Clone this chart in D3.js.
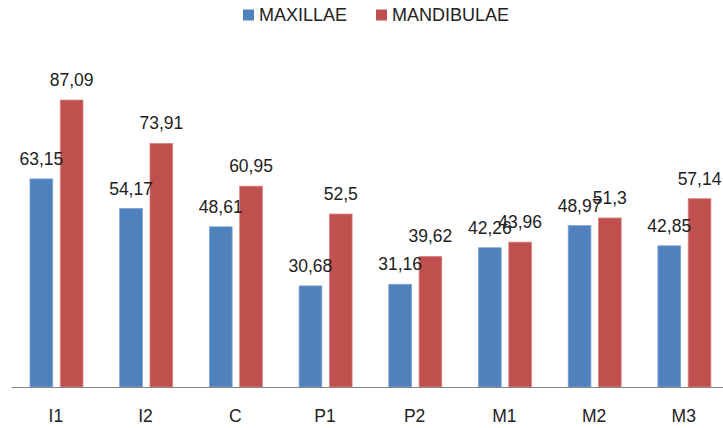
<!DOCTYPE html>
<html><head><meta charset="utf-8">
<script src="https://cdn.jsdelivr.net/npm/d3@7"></script>
<style>body{margin:0;background:#fff}svg{display:block}text{font-family:"Liberation Sans",Arial,sans-serif;fill:#222}</style>
</head><body>
<svg id="c" width="723" height="428"></svg>
<script>
const categories = ["I1","I2","C","P1","P2","M1","M2","M3"];
const seriesNames = ["MAXILLAE","MANDIBULAE"];
const maxillae = [63.15,54.17,48.61,30.68,31.16,42.26,48.97,42.85];
const mandibulae = [87.09,73.91,60.95,52.5,39.62,43.96,51.3,57.14];
const labelsMax = ["63,15","54,17","48,61","30,68","31,16","42,26","48,97","42,85"];
const labelsMand = ["87,09","73,91","60,95","52,5","39,62","43,96","51,3","57,14"];
const colors = ["#4F81BD","#C0504D"];

const svg = d3.select("#c");
const x0 = 11, step = 89.7, baseY = 387;
const x = d3.scaleBand().domain(categories).range([x0, x0 + step*categories.length]).padding(0);
const xs = d3.scaleBand().domain(seriesNames).range([19, 72]).paddingInner(0.25);
const y = d3.scaleLinear().domain([0, 100]).range([baseY, baseY - 329.5]);

const data = [maxillae, mandibulae];
const labels = [labelsMax, labelsMand];

seriesNames.forEach((s, si) => {
  const g = svg.append("g");
  g.selectAll("rect").data(categories).join("rect")
    .attr("x", (c) => x(c) + xs(s))
    .attr("y", (c, i) => y(data[si][i]))
    .attr("width", xs.bandwidth())
    .attr("height", (c, i) => baseY - y(data[si][i]))
    .attr("fill", colors[si])
    .attr("stroke", si === 0 ? "#7da0d3" : "#d88583")
    .attr("stroke-width", 0.8);
});
seriesNames.forEach((s, si) => {
  svg.append("g").selectAll("text").data(categories).join("text")
    .attr("x", (c) => x(c) + xs(s) + xs.bandwidth()/2)
    .attr("y", (c, i) => y(data[si][i]) - 14)
    .attr("text-anchor", "middle")
    .attr("font-size", 17.5)
    .text((c, i) => labels[si][i]);
});

// axis
const ax = svg.append("g").attr("transform", `translate(0,${baseY})`)
  .call(d3.axisBottom(x).tickSize(0).tickPadding(0));
ax.select(".domain").attr("stroke", "#868686").attr("stroke-width", 1.2);
ax.selectAll("text").attr("font-size", 17.5).attr("dy", null).attr("y", 35)
  .attr("font-family", "Liberation Sans, Arial, sans-serif").attr("fill", "#222");

// legend
const legX = [243, 376];
seriesNames.forEach((s, si) => {
  svg.append("rect").attr("x", legX[si]).attr("y", 9.5).attr("width", 11).attr("height", 11).attr("fill", colors[si]);
  svg.append("text").attr("x", legX[si] + 16).attr("y", 20.5).attr("font-size", 18).text(s);
});
</script>
</body></html>
